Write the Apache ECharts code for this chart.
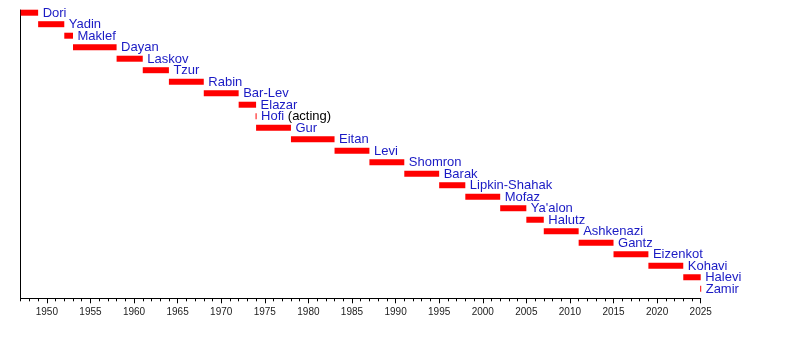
<!DOCTYPE html>
<html><head><meta charset="utf-8">
<script src="https://cdn.jsdelivr.net/npm/echarts@6/dist/echarts.min.js"></script>
<style>html,body{margin:0;padding:0;background:#fff}#c{width:800px;height:348px}</style>
</head><body><div id="c"></div>
<script>
const names = ['Dori','Yadin','Maklef','Dayan','Laskov','Tzur','Rabin','Bar-Lev','Elazar','Hofi','Gur','Eitan','Levi','Shomron','Barak','Lipkin-Shahak','Mofaz',"Ya'alon",'Halutz','Ashkenazi','Gantz','Eizenkot','Kohavi','Halevi','Zamir'];
const notes = ['','','','','','','','','',' (acting)','','','','','','','','','','','','','','',''];
const starts = [1947,1949,1952,1953,1958,1961,1964,1968,1972,1974,1974,1978,1983,1987,1991,1995,1998,2002,2005,2007,2011,2015,2019,2023,2025];
const ends   = [1949,1952,1953,1958,1961,1964,1968,1972,1974,1974,1978,1983,1987,1991,1995,1998,2002,2005,2007,2011,2015,2019,2023,2025,2025];
const axisMin = 1947, axisMax = 2025;
const minorTickYears = [];
for (let y = axisMin; y <= axisMax; y++) minorTickYears.push(y);
const labelYears = [1950,1955,1960,1965,1970,1975,1980,1985,1990,1995,2000,2005,2010,2015,2020,2025];

const FONT = '"Liberation Sans", Arial, Helvetica, sans-serif';
const BLUE = '#1a1ac4';
const data = names.map((n, i) => [i, starts[i], ends[i]]);
const gridBox = {left: 20.7, right: 99.3, top: 10, bottom: 49.7};

const chart = echarts.init(document.getElementById('c'), null, {renderer: 'canvas'});
chart.setOption({
  animation: false,
  backgroundColor: '#fff',
  grid: [Object.assign({}, gridBox), Object.assign({}, gridBox)],
  xAxis: [{
    gridIndex: 0, type: 'value', min: axisMin, max: axisMax, position: 'bottom',
    axisLine: {show: true, onZero: false, lineStyle: {color: '#000', width: 1}},
    axisTick: {show: true, length: 3, customValues: minorTickYears, lineStyle: {color: '#000'}},
    axisLabel: {show: false},
    splitLine: {show: false}
  }, {
    gridIndex: 1, type: 'value', min: axisMin, max: axisMax, position: 'bottom',
    axisLine: {show: false, onZero: false},
    axisTick: {show: true, length: 5, customValues: labelYears, lineStyle: {color: '#000'}},
    axisLabel: {show: true, customValues: labelYears, fontSize: 10, color: '#222', fontFamily: FONT, margin: 9,
      formatter: function (v) { return String(v); }},
    splitLine: {show: false}
  }],
  yAxis: [{
    gridIndex: 0, type: 'value', inverse: true, min: -0.235, max: 24.83,
    axisLine: {show: true, onZero: false, lineStyle: {color: '#000', width: 1}},
    axisTick: {show: false}, axisLabel: {show: false}, splitLine: {show: false}
  }, {
    gridIndex: 1, type: 'value', min: 0, max: 1, show: false
  }],
  series: [{
    type: 'custom',
    xAxisIndex: 0, yAxisIndex: 0,
    encode: {x: [1, 2], y: 0},
    data: data,
    renderItem: function (params, api) {
      const i = api.value(0), s = api.value(1), e = api.value(2);
      const p0 = api.coord([s, i]), p1 = api.coord([e, i]);
      const h = 6;
      let w = p1[0] - p0[0];
      let x = p0[0];
      if (w < 1) { w = 1; x = p0[0] - 0.5; }
      const nm = names[i], note = notes[i];
      return {
        type: 'group',
        children: [
          {type: 'rect', shape: {x: x, y: p0[1] - h / 2, width: w, height: h}, style: {fill: '#ff0000'}},
          {type: 'text', x: x + w + 4.5, y: p0[1] + 0.5, style: {
            text: '{n|' + nm + '}' + (note ? '{s|' + note + '}' : ''),
            verticalAlign: 'middle', align: 'left',
            rich: {
              n: {fill: BLUE, fontSize: 13, fontFamily: FONT},
              s: {fill: '#000', fontSize: 13, fontFamily: FONT}
            }
          }}
        ]
      };
    }
  }]
});
</script></body></html>
